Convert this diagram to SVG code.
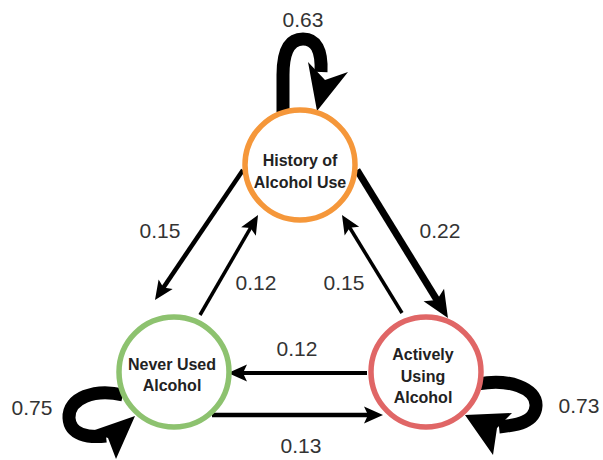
<svg xmlns="http://www.w3.org/2000/svg" width="603" height="460" viewBox="0 0 603 460">
<style>
.node{fill:#fff;stroke-width:5.5}
.nt{font-family:"Liberation Sans",Arial,sans-serif;font-weight:bold;font-size:16px;fill:#222;text-anchor:middle}
.lbl{font-family:"Liberation Sans",Arial,sans-serif;font-size:21px;fill:#333;text-anchor:middle}
.edge{stroke:#000;fill:none}
.loop{stroke:#000;fill:none;stroke-width:13}
.head{fill:#000}
</style>
<defs>
<marker id="ah" markerUnits="userSpaceOnUse" markerWidth="40" markerHeight="40" viewBox="-20 -20 40 40" refX="0" refY="0" orient="auto">
<path d="M -9 -8.5 L 10 0 L -9 8.5 L -5 0 Z" fill="#000"/>
</marker>
<marker id="ahb" markerUnits="userSpaceOnUse" markerWidth="50" markerHeight="50" viewBox="-25 -25 50 50" refX="0" refY="0" orient="auto">
<path d="M -12 -12 L 15 0 L -12 12 L -6 0 Z" fill="#000"/>
</marker>
</defs>
<g id="connectors">
<line class="edge" x1="243" y1="170" x2="160.6" y2="291.7" stroke-width="4.5" marker-end="url(#ah)"/>
<line class="edge" x1="200" y1="315" x2="253" y2="223.7" stroke-width="3.5" marker-end="url(#ah)"/>
<line class="edge" x1="357" y1="170" x2="440.1" y2="305.2" stroke-width="7" marker-end="url(#ahb)"/>
<line class="edge" x1="402" y1="313" x2="347.2" y2="223.5" stroke-width="3.5" marker-end="url(#ah)"/>
<line class="edge" x1="367" y1="373" x2="238" y2="373" stroke-width="4" marker-end="url(#ah)"/>
<line class="edge" x1="212" y1="415" x2="373" y2="415" stroke-width="4.5" marker-end="url(#ah)"/>
<path class="loop" d="M 283 112 L 283 75 C 283 50 290 39 303 39 C 316 39 322 50 321 72"/>
<polygon class="head" points="317,111 308,62 325,80 348,72"/>
<path class="loop" stroke-width="12" d="M 123 395 C 95 388 68 398 69 418 C 70 435 88 438 106 436"/>
<polygon class="head" points="135,416 89,432 108,438 116,459"/>
<path class="loop" stroke-width="12" d="M 478 384 C 508 378 537 388 536 406 C 535 422 518 425 499 427"/>
<polygon class="head" points="465,415 512,413 497,428 493,455"/>
<text class="lbl" x="303" y="27">0.63</text>
<text class="lbl" x="160" y="238">0.15</text>
<text class="lbl" x="256" y="290">0.12</text>
<text class="lbl" x="344" y="290">0.15</text>
<text class="lbl" x="440" y="238">0.22</text>
<text class="lbl" x="297" y="356">0.12</text>
<text class="lbl" x="301" y="453">0.13</text>
<text class="lbl" x="32" y="415">0.75</text>
<text class="lbl" x="579" y="413">0.73</text>
</g>
<g id="history">
<circle class="node" cx="300" cy="165" r="55" stroke="#F5973A"/>
<text class="nt" x="300" y="166">History of</text>
<text class="nt" x="300" y="188">Alcohol Use</text>
</g>
<g id="never">
<circle class="node" cx="174" cy="372" r="55" stroke="#8DC26F"/>
<text class="nt" x="172" y="370">Never Used</text>
<text class="nt" x="172" y="391">Alcohol</text>
</g>
<g id="actively">
<circle class="node" cx="426" cy="372" r="55" stroke="#E06666"/>
<text class="nt" x="423" y="360">Actively</text>
<text class="nt" x="423" y="382">Using</text>
<text class="nt" x="423" y="403">Alcohol</text>
</g>
</svg>
